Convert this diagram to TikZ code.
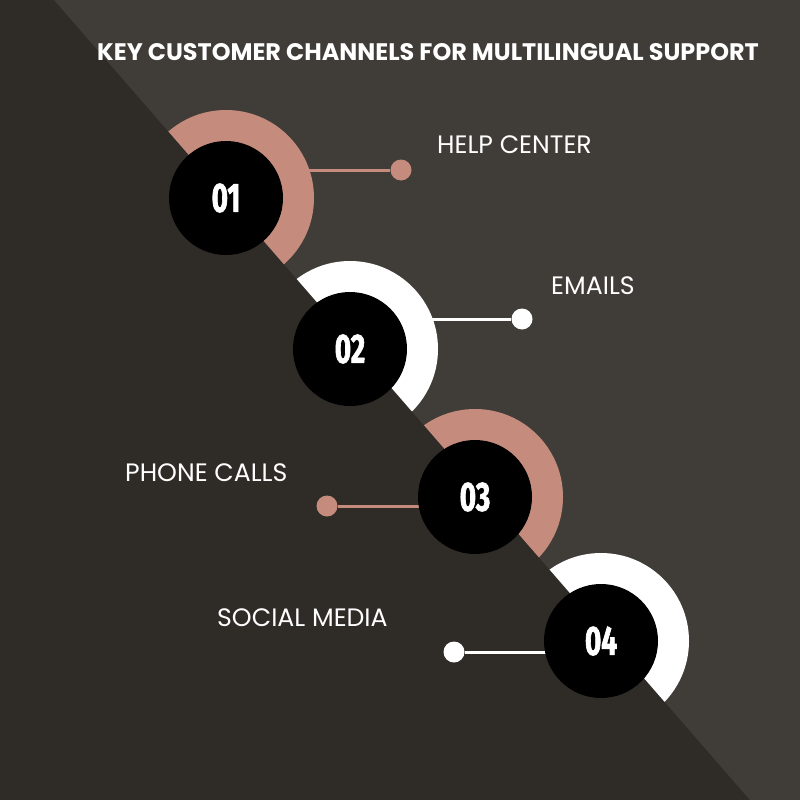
\documentclass[tikz,border=0pt]{standalone}
\usepackage{fontspec}
\setmainfont{Poppins}
\newfontfamily\numfont{Fira Sans}[FakeStretch=0.68, FakeBold=1.6]
\definecolor{bgDark}{HTML}{2F2B27}
\definecolor{bgLight}{HTML}{403C37}
\definecolor{rose}{HTML}{C58C7E}
\tikzset{
  numdisc/.style={circle, fill=black, minimum size=114pt, inner sep=0pt, text=white, font=\numfont\bfseries\fontsize{41}{41}\selectfont},
  tipdot/.style={circle, minimum size=21pt, inner sep=0pt},
  tipline/.style={line width=3pt},
  chanlabel/.style={anchor=west, inner sep=0pt, text=white, font=\fontsize{25.2}{25.2}\selectfont},
}

\begin{document}
\begin{tikzpicture}[x=1pt,y=-1pt]
\useasboundingbox (0,0) rectangle (800,800);
\fill[bgDark] (0,0) rectangle (800,800);
\fill[bgLight] (54,0) -- (800,0) -- (800,800) -- (750,800) -- cycle;
\node[anchor=center, inner sep=0pt, text=white, font=\bfseries\fontsize{23.9}{23.9}\selectfont] (title) at (428,52) {KEY CUSTOMER CHANNELS FOR MULTILINGUAL SUPPORT};
\coordinate (p1) at (226,198);
\coordinate (p2) at (350,349);
\coordinate (p3) at (475,497);
\coordinate (p4) at (601,641);
\node[tipdot, fill=rose] (d1) at (401,170) {};
\node[tipdot, fill=white] (d2) at (522,319) {};
\node[tipdot, fill=rose] (d3) at (327,506) {};
\node[tipdot, fill=white] (d4) at (454,652) {};
\draw[tipline, rose] (d1) -- (p1 |- d1);
\draw[tipline, white] (d2) -- (p2 |- d2);
\draw[tipline, rose] (d3) -- (p3 |- d3);
\draw[tipline, white] (d4) -- (p4 |- d4);
\begin{scope}
\clip (54,0) -- (800,0) -- (800,800) -- (750,800) -- cycle;
\fill[rose] (p1) circle (88);
\fill[white] (p2) circle (88);
\fill[rose] (p3) circle (88);
\fill[white] (p4) circle (88);
\end{scope}
\node[numdisc] (c1) at (p1) {01};
\node[numdisc] (c2) at (p2) {02};
\node[numdisc] (c3) at (p3) {03};
\node[numdisc] (c4) at (p4) {04};
\node[chanlabel] (l1) at (437,145) {HELP CENTER};
\node[chanlabel] (l2) at (551,286) {EMAILS};
\node[chanlabel] (l3) at (125,473) {PHONE CALLS};
\node[chanlabel] (l4) at (217,618) {SOCIAL MEDIA};
\end{tikzpicture}
\end{document}
